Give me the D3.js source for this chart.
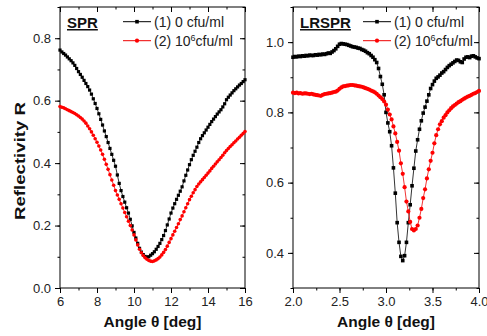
<!DOCTYPE html>
<html>
<head>
<meta charset="utf-8">
<script src="https://cdn.jsdelivr.net/npm/d3@7"></script>
<style>
body { margin: 0; background: #fff; }
svg { display: block; font-family: "Liberation Sans", Arial, sans-serif; }
</style>
</head>
<body>
<svg id="chart" width="487" height="336"></svg>
<script>
// SPR panel: angle grid 6..16 deg, step 0.1
const sprAngles = d3.range(101).map(i => +(6 + i * 0.1).toFixed(2));
const sprZero = [
  0.762, 0.756, 0.751, 0.746, 0.740, 0.734, 0.728, 0.721, 0.713, 0.703,
  0.693, 0.684, 0.675, 0.665, 0.655, 0.645, 0.634, 0.621, 0.606, 0.591,
  0.575, 0.558, 0.540, 0.522, 0.503, 0.485, 0.466, 0.447, 0.428, 0.409,
  0.390, 0.362, 0.335, 0.312, 0.293, 0.275, 0.257, 0.240, 0.220, 0.199,
  0.178, 0.160, 0.143, 0.127, 0.115, 0.107, 0.101, 0.099, 0.100, 0.105,
  0.110, 0.116, 0.124, 0.133, 0.143, 0.155, 0.168, 0.184, 0.202, 0.221,
  0.240, 0.256, 0.270, 0.284, 0.297, 0.310, 0.324, 0.343, 0.361, 0.378,
  0.395, 0.411, 0.425, 0.438, 0.451, 0.466, 0.478, 0.488, 0.497, 0.506,
  0.515, 0.524, 0.533, 0.541, 0.549, 0.557, 0.564, 0.571, 0.580, 0.590,
  0.603, 0.611, 0.618, 0.625, 0.632, 0.638, 0.644, 0.650, 0.655, 0.661,
  0.667
];
const sprBact = [
  0.581, 0.579, 0.577, 0.574, 0.571, 0.568, 0.565, 0.562, 0.559, 0.555,
  0.551, 0.546, 0.541, 0.535, 0.528, 0.519, 0.510, 0.500, 0.489, 0.478,
  0.467, 0.455, 0.442, 0.428, 0.412, 0.396, 0.380, 0.363, 0.346, 0.329,
  0.312, 0.298, 0.284, 0.270, 0.256, 0.242, 0.228, 0.214, 0.200, 0.186,
  0.170, 0.154, 0.138, 0.124, 0.113, 0.104, 0.097, 0.092, 0.088, 0.086,
  0.085, 0.087, 0.090, 0.094, 0.099, 0.106, 0.114, 0.123, 0.134, 0.146,
  0.158, 0.170, 0.182, 0.194, 0.206, 0.219, 0.231, 0.244, 0.257, 0.270,
  0.283, 0.294, 0.305, 0.315, 0.325, 0.333, 0.340, 0.347, 0.354, 0.361,
  0.368, 0.375, 0.383, 0.390, 0.397, 0.404, 0.411, 0.418, 0.425, 0.433,
  0.440, 0.447, 0.453, 0.459, 0.465, 0.471, 0.477, 0.483, 0.489, 0.495,
  0.501
];

// LRSPR panel: angle grid 2..4 deg, step 0.02
const lrAngles = d3.range(101).map(i => +(2 + i * 0.02).toFixed(2));
const lrZero = [
  0.957, 0.959, 0.958, 0.960, 0.959, 0.961, 0.960, 0.962, 0.961, 0.963,
  0.962, 0.962, 0.964, 0.963, 0.965, 0.964, 0.966, 0.965, 0.967, 0.969,
  0.968, 0.972, 0.976, 0.981, 0.988, 0.994, 0.996, 0.995, 0.994, 0.993,
  0.991, 0.989, 0.987, 0.986, 0.985, 0.983, 0.982, 0.979, 0.977, 0.974,
  0.970, 0.967, 0.962, 0.957, 0.950, 0.942, 0.925, 0.902, 0.880, 0.850,
  0.800, 0.770, 0.745, 0.705, 0.642, 0.570, 0.486, 0.430, 0.390, 0.378,
  0.392, 0.430, 0.486, 0.537, 0.591, 0.641, 0.690, 0.722, 0.752, 0.776,
  0.798, 0.815, 0.832, 0.850, 0.868, 0.879, 0.889, 0.897, 0.901, 0.906,
  0.912, 0.916, 0.922, 0.928, 0.933, 0.937, 0.941, 0.945, 0.949, 0.948,
  0.944, 0.942, 0.952, 0.957, 0.958, 0.956, 0.960, 0.961, 0.958, 0.955,
  0.953
];
const lrBact = [
  0.856, 0.855, 0.856, 0.854, 0.855, 0.853, 0.854, 0.854, 0.853, 0.852,
  0.853, 0.851, 0.850, 0.849, 0.848, 0.847, 0.850, 0.852, 0.853, 0.854,
  0.855, 0.856, 0.858, 0.859, 0.862, 0.867, 0.871, 0.874, 0.875, 0.876,
  0.877, 0.878, 0.878, 0.877, 0.876, 0.875, 0.874, 0.873, 0.871, 0.869,
  0.867, 0.865, 0.862, 0.860, 0.857, 0.853, 0.848, 0.843, 0.838, 0.831,
  0.822, 0.808, 0.794, 0.780, 0.760, 0.740, 0.716, 0.691, 0.655, 0.625,
  0.587, 0.546, 0.518, 0.488, 0.468, 0.464, 0.468, 0.478, 0.500, 0.525,
  0.556, 0.581, 0.612, 0.638, 0.662, 0.685, 0.712, 0.735, 0.752, 0.766,
  0.775, 0.785, 0.792, 0.800, 0.806, 0.812, 0.817, 0.821, 0.825, 0.829,
  0.832, 0.836, 0.839, 0.842, 0.845, 0.847, 0.850, 0.853, 0.855, 0.858,
  0.861
];

const sprXTicks = [6, 8, 10, 12, 14, 16];
const sprYTicks = [0.0, 0.2, 0.4, 0.6, 0.8];
const lrXTicks = [2.0, 2.5, 3.0, 3.5, 4.0];
const lrYTicks = [0.4, 0.6, 0.8, 1.0];
const legendLabels = ["(1) 0 cfu/ml", "(2) 10", "cfu/ml"];

const svg = d3.select("#chart");
const plotTop = 7, plotBottom = 288;

const panels = [
  {
    name: "SPR", left: 60, right: 245,
    xDomain: [6, 16], yDomain: [0, 0.9],
    xTicks: sprXTicks, xMinor: d3.range(6, 17, 1),
    yTicks: sprYTicks, yMinor: d3.range(0, 0.95, 0.1),
    xFmt: d3.format("d"), yFmt: d3.format(".1f"),
    angles: sprAngles, s1: sprZero, s2: sprBact,
    sq: 3.2, r: 1.8, legendX: 123
  },
  {
    name: "LRSPR", left: 293, right: 479,
    xDomain: [2, 4], yDomain: [0.3, 1.1],
    xTicks: lrXTicks, xMinor: d3.range(2, 4.01, 0.25),
    yTicks: lrYTicks, yMinor: d3.range(0.3, 1.15, 0.1),
    xFmt: d3.format(".1f"), yFmt: d3.format(".1f"),
    angles: lrAngles, s1: lrZero, s2: lrBact,
    sq: 3.6, r: 2.1, legendX: 363
  }
];

panels.forEach(p => {
  const x = d3.scaleLinear().domain(p.xDomain).range([p.left, p.right]);
  const y = d3.scaleLinear().domain(p.yDomain).range([plotBottom, plotTop]);
  const g = svg.append("g");

  // axes: bottom/left ticks outward, top/right ticks inward
  const axisStyle = sel => {
    sel.select(".domain").remove();
    sel.selectAll("line").attr("stroke", "#000").attr("stroke-width", 1);
    sel.selectAll("text").attr("fill", "#222").attr("font-size", 13)
      .attr("font-family", "Liberation Sans, Arial, sans-serif");
  };
  g.append("g").attr("transform", `translate(0,${plotBottom})`)
    .call(d3.axisBottom(x).tickValues(p.xMinor).tickSize(2.5).tickFormat(""))
    .call(axisStyle);
  g.append("g").attr("transform", `translate(0,${plotBottom})`)
    .call(d3.axisBottom(x).tickValues(p.xTicks).tickSize(5).tickPadding(4).tickFormat(p.xFmt))
    .call(axisStyle);
  g.append("g").attr("transform", `translate(0,${plotTop})`)
    .call(d3.axisTop(x).tickValues(p.xMinor).tickSize(-2.5).tickFormat(""))
    .call(axisStyle);
  g.append("g").attr("transform", `translate(0,${plotTop})`)
    .call(d3.axisTop(x).tickValues(p.xTicks).tickSize(-5).tickFormat(""))
    .call(axisStyle);
  g.append("g").attr("transform", `translate(${p.left},0)`)
    .call(d3.axisLeft(y).tickValues(p.yMinor).tickSize(2.5).tickFormat(""))
    .call(axisStyle);
  g.append("g").attr("transform", `translate(${p.left},0)`)
    .call(d3.axisLeft(y).tickValues(p.yTicks).tickSize(5).tickPadding(4).tickFormat(p.yFmt))
    .call(axisStyle);
  g.append("g").attr("transform", `translate(${p.right},0)`)
    .call(d3.axisRight(y).tickValues(p.yMinor).tickSize(-2.5).tickFormat(""))
    .call(axisStyle);
  g.append("g").attr("transform", `translate(${p.right},0)`)
    .call(d3.axisRight(y).tickValues(p.yTicks).tickSize(-5).tickFormat(""))
    .call(axisStyle);

  g.append("rect")
    .attr("x", p.left).attr("y", plotTop)
    .attr("width", p.right - p.left).attr("height", plotBottom - plotTop)
    .attr("fill", "none").attr("stroke", "#000").attr("stroke-width", 1);

  const line = d3.line().x(d => x(d[0])).y(d => y(d[1]));
  const d1 = p.angles.map((a, i) => [a, p.s1[i]]);
  const d2 = p.angles.map((a, i) => [a, p.s2[i]]);

  const plot = g.append("g");
  plot.append("path").datum(d1).attr("d", line)
    .attr("fill", "none").attr("stroke", "#000").attr("stroke-width", 0.8);
  plot.append("path").datum(d2).attr("d", line)
    .attr("fill", "none").attr("stroke", "#e00").attr("stroke-width", 0.8);
  plot.selectAll(".sq").data(d1).join("rect")
    .attr("x", d => x(d[0]) - p.sq / 2).attr("y", d => y(d[1]) - p.sq / 2)
    .attr("width", p.sq).attr("height", p.sq).attr("fill", "#000");
  plot.selectAll(".ci").data(d2).join("circle")
    .attr("cx", d => x(d[0])).attr("cy", d => y(d[1]))
    .attr("r", p.r).attr("fill", "#f00");

  // panel label
  g.append("text").attr("x", p.left + 7).attr("y", 28)
    .attr("font-size", 15).attr("font-weight", "bold")
    .attr("text-decoration", "underline").attr("fill", "#111")
    .text(p.name);

  // legend
  const lx = p.legendX, lw = 28;
  const lg = g.append("g");
  [[21.7, "#000"], [40.7, "#e00"]].forEach(([ly, c], k) => {
    lg.append("line").attr("x1", lx).attr("x2", lx + lw).attr("y1", ly).attr("y2", ly)
      .attr("stroke", c).attr("stroke-width", 1);
    if (k === 0) {
      lg.append("rect").attr("x", lx + lw / 2 - 1.8).attr("y", ly - 1.8)
        .attr("width", 3.6).attr("height", 3.6).attr("fill", "#000");
    } else {
      lg.append("circle").attr("cx", lx + lw / 2).attr("cy", ly).attr("r", 2.1).attr("fill", "#f00");
    }
  });
  lg.append("text").attr("x", lx + lw + 3).attr("y", 26.5)
    .attr("font-size", 14).attr("fill", "#222").text(legendLabels[0]);
  const t2 = lg.append("text").attr("x", lx + lw + 3).attr("y", 45.5)
    .attr("font-size", 14).attr("fill", "#222");
  t2.append("tspan").text(legendLabels[1]);
  t2.append("tspan").attr("dy", -5).attr("font-size", 9).text("6");
  t2.append("tspan").attr("dy", 5).text(legendLabels[2]);

  // x title
  g.append("text").attr("x", (p.left + p.right) / 2).attr("y", 327)
    .attr("text-anchor", "middle").attr("font-size", 15.5).attr("font-weight", "bold")
    .attr("fill", "#111").text("Angle θ [deg]");
});

// y title
svg.append("text")
  .attr("transform", "translate(24.5,220) rotate(-90)")
  .attr("font-size", 15.5).attr("font-weight", "bold").attr("fill", "#111")
  .attr("textLength", 118).attr("lengthAdjust", "spacingAndGlyphs")
  .text("Reflectivity R");
</script>
</body>
</html>
